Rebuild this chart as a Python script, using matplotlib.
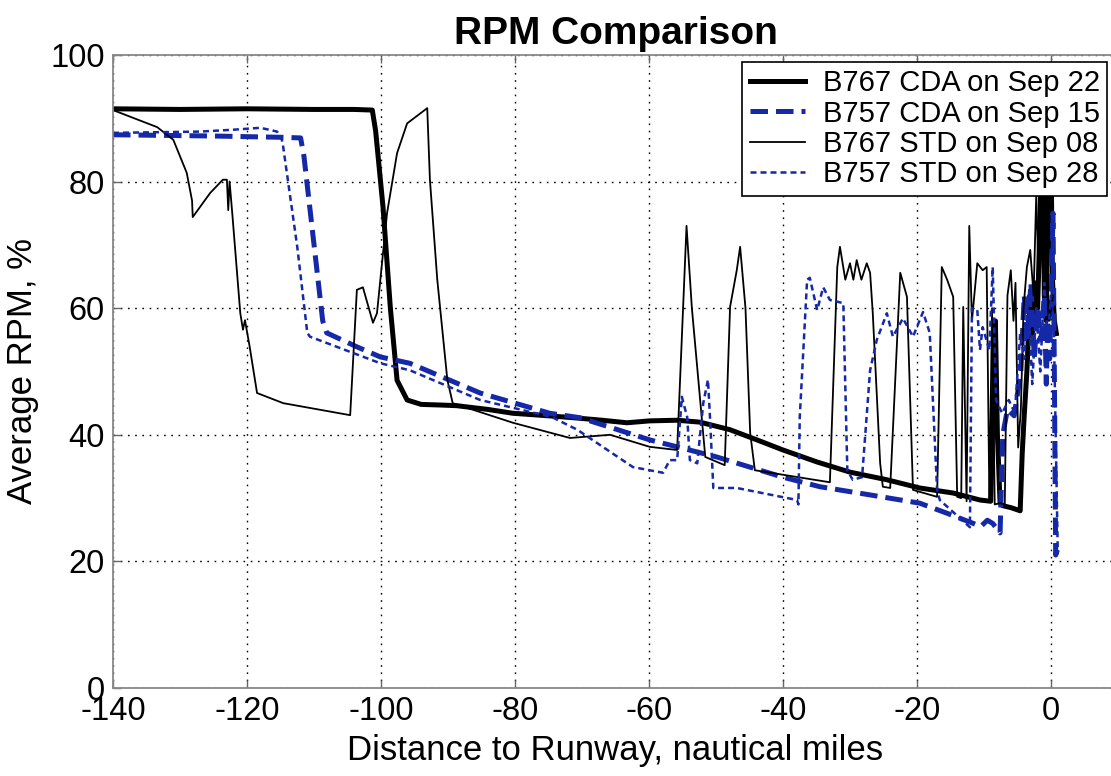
import numpy as np
import matplotlib
matplotlib.use('Agg')
import matplotlib.pyplot as plt
from matplotlib.ticker import MultipleLocator

plt.rcParams['font.family'] = ['Liberation Sans', 'DejaVu Sans']
plt.rcParams['axes.unicode_minus'] = False

# B767 CDA on Sep 22 (thick black)
x_cda767 = [-140, -130, -120, -110, -104, -101.3, -100.8, -99.7, -98.6, -97.6, -96.1, -94, -91,
            -88.7, -84, -80.3, -75, -71.3, -67, -63.3, -59.9, -55.8, -52.4, -47.9, -43.9, -40,
            -34.9, -30, -24.5, -19.6, -14.6, -10.6, -9.0, -8.6, -8.3, -8.0, -7.6, -7.2, -6,
            -4.6, -4.3, -4.0, -3.6, -3.2, -2.8, -2.4, -2.0, -1.6, -1.3, -1.0, -0.7, -0.4, -0.1,
            0.2, 0.5, 0.8]
y_cda767 = [91.5, 91.4, 91.5, 91.4, 91.4, 91.3, 88, 76, 60, 48.6, 45.5, 44.8, 44.7,
            44.6, 44, 43.4, 43, 42.7, 42.3, 41.9, 42.2, 42.3, 42, 40.8, 39.2, 37.6,
            35.7, 34.1, 32.9, 31.6, 30.8, 29.7, 29.5, 45, 58, 40, 29.2, 28.8, 28.5,
            28.0, 37, 43, 50, 60, 56, 64, 60, 75, 95, 62, 58, 90, 95,
            65, 58, 56]

# B757 CDA on Sep 15 (thick blue dashed)
x_cda757 = [-140, -125, -115, -112, -111.5, -108.7, -108.1, -103.6, -100.1, -95.7, -85.2, -74.8,
            -70.3, -59.9, -49.9, -40, -34.5, -27, -19.6, -15.5, -11.6, -10.5, -9.5, -8.7, -7.6,
            -7.2, -6.5, -5.5, -4.5, -4.0, -3.5, -3.0, -2.5, -2.0, -1.5, -1.0, -0.7, -0.5, -0.2,
            0, 0.3, 0.5, 0.7, 1.0]
y_cda757 = [87.4, 87.2, 87.0, 86.9, 84, 58, 56.1, 53.9, 52.3, 51.3, 46.6, 43.4,
            42.7, 39.2, 36.5, 33.3, 31.8, 30.5, 29.2, 27.6, 26.0, 25.5, 26.5, 26, 24.5,
            40, 44, 43, 50, 62, 55, 64, 52, 60, 55, 62, 48, 58, 52,
            60, 75, 50, 21, 22]

# B767 STD on Sep 08 (thin black)
x_std767 = [-140, -133.4, -131, -129, -128.2, -128.1, -125.5, -123.6, -123, -122.8, -122.6, -122.2,
            -121, -120.6, -120.3, -119.6, -118.5, -114.6, -104.6, -103.6, -102.7, -101.2, -100.6,
            -99.1, -97.6, -96.1, -93.1, -92.7, -91.6, -90.1, -89.3, -80.3, -71.8, -65.8, -59.9,
            -55.8, -54.4, -53.6, -51.6, -48.7, -47.9, -46.9, -46.4, -45.6, -44.9, -44.2, -33,
            -31.9, -31.5, -30.7, -30, -29.5, -29, -28.3, -27.5, -27, -26.6, -25.5, -25.1, -24,
            -22.5, -21.5, -20.6, -17, -16.3, -15.5, -14.6, -14, -13.4, -13.1, -12.6, -12.2,
            -11.8, -11, -10.2, -9.6, -9.2, -8.8, -8.4, -7.6, -6.9, -6.5, -6.0, -5.6, -5.3,
            -4.9, -4.5, -4.1, -3.6, -3.1, -2.6, -2.2, -1.8, -1.4, -1.0, -0.6, -0.2, 0.3]
y_std767 = [91.3, 88.6, 86.6, 81.4, 77, 74.4, 78.2, 80.3, 80.3, 75.5, 80, 75,
            59.2, 56.6, 58.1, 53.9, 46.6, 45, 43.1, 62.9, 63.3, 57.7, 59.2,
            75, 84.5, 89.2, 91.6, 80.3, 64.5, 48.7, 45, 41.9, 39.5, 40, 38.1,
            37.6, 73, 60, 36.5, 35.2, 60.2, 66, 69.7, 60, 40.3, 34.4, 32.5,
            66.5, 69.7, 64.5, 67.1, 64.5, 67.6, 64.5, 67.1, 65.6, 59.2, 35.5, 31.8, 31.6,
            65.6, 61.8, 31.3, 30.2, 66.5, 64.5, 61.8, 30.2, 30, 60.2, 29.5, 73,
            58, 67.1, 66, 66.5, 30, 60, 29, 29.2, 29, 62, 66, 58, 64,
            38, 44, 60, 66.5, 69.2, 62, 78, 63, 85, 64, 66, 58, 62]

# B757 STD on Sep 28 (thin blue dashed)
x_std757 = [-140, -127, -122, -118, -115.5, -114.8, -114.6, -112.5, -111, -110.6, -100.1, -95.7,
            -85.2, -74.5, -70.7, -62.4, -57.9, -56.9, -55.8, -55.1, -54.3, -53.9, -52.8, -51.9,
            -51.2, -50.9, -50.4, -46.9, -37.9, -37.7, -37.5, -36.4, -36, -34.9, -34, -33, -31,
            -30.4, -29.6, -28.2, -27, -26, -24.5, -23.6, -22.1, -20.6, -19.1, -18.1, -17, -16.6,
            -12.1, -11.8, -11, -10.6, -10.2, -9.2, -8.7, -8.2, -7.3, -6.3, -5.4, -4.6, -4,
            -3.4, -2.8, -2.2, -1.6, -1.0, -0.5, 0, 0.4, 0.7, 1.0]
y_std757 = [87.7, 87.9, 88.2, 88.5, 87.9, 86.6, 85.5, 69.7, 56.1, 55.5, 51.3, 50.2,
            45.5, 42.8, 40.8, 34.9, 34, 36, 36, 46, 42.8, 36, 35.5, 45,
            48.7, 42.8, 31.6, 31.6, 29.7, 29, 42.8, 64.5, 64.8, 59.7, 63.3, 61.3, 60.8,
            34.4, 32.9, 33.3, 50.2, 55, 59.2, 55.5, 58.4, 55.5, 59.4, 56.1, 31.3, 29.7,
            25.4, 60, 59.7, 53.4, 57, 53.4, 66.5, 45.5, 43.4, 45.5, 43.4, 56, 52,
            62, 48, 60, 50, 64, 55, 62, 58, 40, 22]

blue = '#1428a8'

fig = plt.figure(figsize=(11.11, 7.76), dpi=100)
ax = fig.add_axes([113/1111, 88/776, 1005/1111, 633/776])

ax.plot(x_cda767, y_cda767, color='black', lw=3.6, label='B767 CDA on Sep 22')
ax.plot(x_cda757, y_cda757, color=blue, lw=3.6, dashes=(3.5, 1.6), label='B757 CDA on Sep 15')
ax.plot(x_std767, y_std767, color='black', lw=1.3, label='B767 STD on Sep 08')
ax.plot(x_std757, y_std757, color=blue, lw=1.8, dashes=(2.4, 1.6), label='B757 STD on Sep 28')

ax.set_xlim(-140, 10)
ax.set_ylim(0, 100)
ax.xaxis.set_major_locator(MultipleLocator(20))
ax.yaxis.set_major_locator(MultipleLocator(20))
ax.grid(True, color='black', linestyle=(0, (1.2, 4)), lw=1.0)
ax.tick_params(direction='in', length=6, width=1, top=True, right=True,
               labelsize=23.5, pad=6, color='#666666')
for s in ax.spines.values():
    s.set_color('#888888')
    s.set_linewidth(1.3)

ax.set_xlabel('Distance to Runway, nautical miles', fontsize=25, labelpad=5)
ax.set_ylabel('Average RPM, %', fontsize=25, labelpad=8)
ax.set_title('RPM Comparison', fontsize=28, fontweight='bold', pad=8)

leg = ax.legend(loc='upper right', bbox_to_anchor=(1107/1111, 1 - 62/776),
                bbox_transform=fig.transFigure, fontsize=21, frameon=True,
                fancybox=False, framealpha=1, edgecolor='black', borderaxespad=0,
                labelspacing=0.08, borderpad=0.25, handlelength=1.9, handletextpad=0.6)
leg.get_frame().set_linewidth(1.2)

fig.savefig('out.png', dpi=100)
